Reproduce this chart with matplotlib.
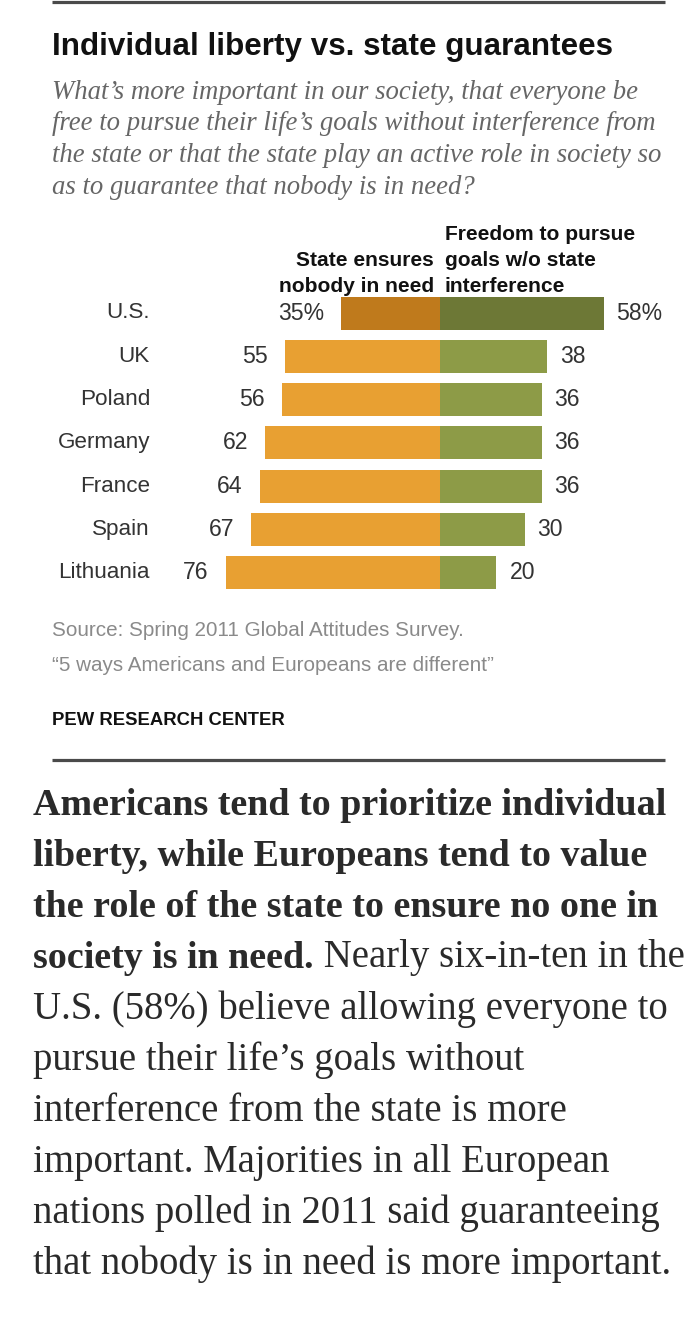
import matplotlib

matplotlib.use("Agg")

import matplotlib.pyplot as plt

# data
countries = ["U.S.", "UK", "Poland", "Germany", "France", "Spain", "Lithuania"]
state_ensures = [35, 55, 56, 62, 64, 67, 76]
freedom = [58, 38, 36, 36, 36, 30, 20]

W, H = 693, 1337
PX_PER_PCT = 2.82
ZERO_X = 440
ROW0_Y = 313
ROW_STEP = 43.3
BAR_H = 33

NARROW = ["Liberation Sans Narrow", "Liberation Sans"]
SERIF = ["Liberation Serif", "DejaVu Serif"]

ORANGE = "#e8a032"
GREEN = "#8d9b47"
ORANGE_US = "#bf7a1c"
GREEN_US = "#6d7836"


def pt(px):
    return px * 0.72


fig = plt.figure(figsize=(W / 100, H / 100), dpi=100)
fig.patch.set_facecolor("white")

# background axes in pixel units for text and rules
bg = fig.add_axes([0, 0, 1, 1])
bg.set_xlim(0, W)
bg.set_ylim(H, 0)
bg.axis("off")

# bar axes: percentage units horizontally, row index vertically
ax = fig.add_axes([0, 0, 1, 1])
ax.set_xlim(-ZERO_X / PX_PER_PCT, (W - ZERO_X) / PX_PER_PCT)
ax.set_ylim((H - ROW0_Y) / ROW_STEP, -ROW0_Y / ROW_STEP)
ax.axis("off")

rows = list(range(len(countries)))
left_colors = [ORANGE_US] + [ORANGE] * (len(countries) - 1)
right_colors = [GREEN_US] + [GREEN] * (len(countries) - 1)
bh = BAR_H / ROW_STEP
ax.barh(rows, [-v for v in state_ensures], height=bh, color=left_colors, linewidth=0)
ax.barh(rows, freedom, height=bh, color=right_colors, linewidth=0)

for i, (name, s, f) in enumerate(zip(countries, state_ensures, freedom)):
    suffix = "%" if i == 0 else ""
    ax.annotate(f"{s}{suffix}", xy=(-s, i), xytext=(-17, 0), textcoords="offset pixels",
                ha="right", va="center", fontsize=pt(23), family=NARROW, color="#333333")
    ax.annotate(f"{f}{suffix}", xy=(f, i), xytext=(13, 0), textcoords="offset pixels",
                ha="left", va="center", fontsize=pt(23), family=NARROW, color="#333333")
    bg.text(150, ROW0_Y + i * ROW_STEP, name, ha="right", va="center",
            fontsize=pt(22.5), family=NARROW, color="#333333")

# rules
bg.plot([52, 665], [2, 2], color="#4a4a4a", lw=2.3, solid_capstyle="butt")
bg.plot([52, 665], [760, 760], color="#4a4a4a", lw=2.3, solid_capstyle="butt")

# title and question
bg.text(52, 55, "Individual liberty vs. state guarantees", ha="left", va="baseline",
        fontsize=pt(31.4), family=NARROW, fontweight="bold", color="#111111")
question = [
    "What\u2019s more important in our society, that everyone be",
    "free to pursue their life\u2019s goals without interference from",
    "the state or that the state play an active role in society so",
    "as to guarantee that nobody is in need?",
]
for k, line in enumerate(question):
    bg.text(52, 99 + k * 31.5, line, ha="left", va="baseline", fontsize=pt(26.7),
            family=SERIF, style="italic", color="#666666")

# column headers
for k, line in enumerate(["Freedom to pursue", "goals w/o state", "interference"]):
    bg.text(445, 240 + k * 26, line, ha="left", va="baseline", fontsize=pt(21),
            family=NARROW, fontweight="bold", color="#111111")
for k, line in enumerate(["State ensures", "nobody in need"]):
    bg.text(434, 266 + k * 26, line, ha="right", va="baseline", fontsize=pt(21),
            family=NARROW, fontweight="bold", color="#111111")

# source notes
bg.text(52, 636, "Source: Spring 2011 Global Attitudes Survey.", ha="left", va="baseline",
        fontsize=pt(20.6), family=NARROW, color="#8a8a8a")
bg.text(52, 671, "\u201c5 ways Americans and Europeans are different\u201d", ha="left",
        va="baseline", fontsize=pt(20.6), family=NARROW, color="#8a8a8a")
bg.text(52, 725, "PEW RESEARCH CENTER", ha="left", va="baseline", fontsize=pt(18.5),
        family=NARROW, fontweight="bold", color="#111111")

# paragraph below the chart
para_bold = [
    "Americans tend to prioritize individual",
    "liberty, while Europeans tend to value",
    "the role of the state to ensure no one in",
    "society is in need.",
]
para_rest = [
    "U.S. (58%) believe allowing everyone to",
    "pursue their life\u2019s goals without",
    "interference from the state is more",
    "important. Majorities in all European",
    "nations polled in 2011 said guaranteeing",
    "that nobody is in need is more important.",
]
PARA_Y0, PARA_STEP = 815, 51
BOLD_FS, REG_FS = pt(38), pt(38.8)
last_bold = None
for k, line in enumerate(para_bold):
    last_bold = bg.text(33, PARA_Y0 + k * PARA_STEP, line, ha="left", va="baseline",
                        fontsize=BOLD_FS, family=SERIF, fontweight="bold", color="#2a2a2a")
bg.annotate(" Nearly six-in-ten in the", xy=(1, 0), xycoords=last_bold, ha="left",
            va="bottom", fontsize=REG_FS, family=SERIF, color="#2a2a2a")
for k, line in enumerate(para_rest):
    bg.text(33, PARA_Y0 + (k + 4) * PARA_STEP, line, ha="left", va="baseline",
            fontsize=REG_FS, family=SERIF, color="#2a2a2a")

fig.savefig("out.png", dpi=100)
